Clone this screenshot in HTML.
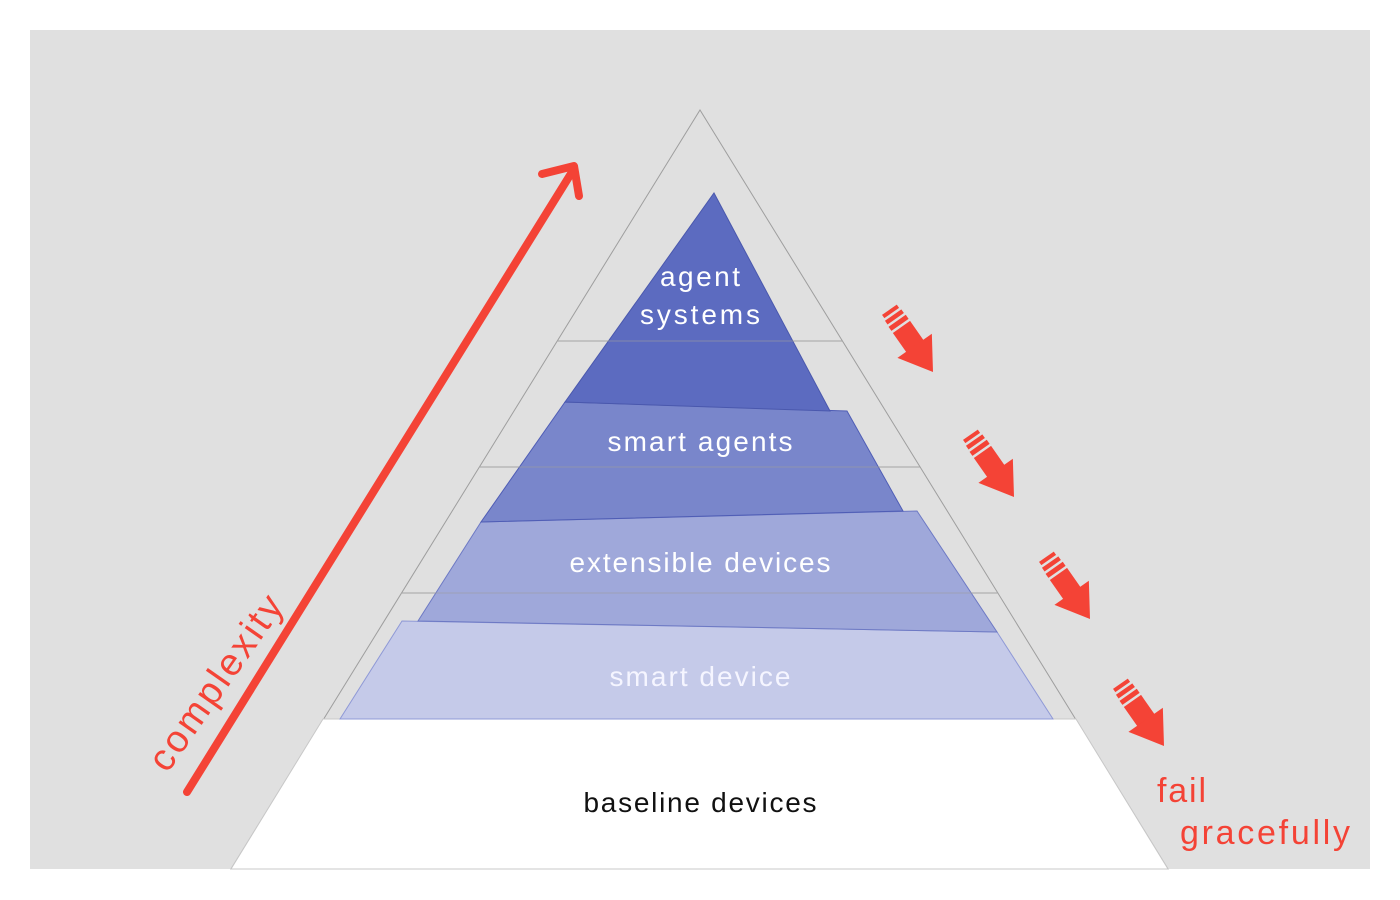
<!DOCTYPE html>
<html><head><meta charset="utf-8"><style>
html,body{margin:0;padding:0;background:#fff;}
svg{display:block;}
text{font-family:"Liberation Sans",sans-serif;}
</style></head><body>
<svg width="1400" height="900" viewBox="0 0 1400 900" xmlns="http://www.w3.org/2000/svg">
<defs>
<g id="ar">
<rect x="-76" y="-9" width="4" height="18" fill="#f44336"/>
<rect x="-69.5" y="-10" width="4.5" height="20" fill="#f44336"/>
<rect x="-62.5" y="-10.5" width="5" height="21" fill="#f44336"/>
<rect x="-55" y="-10.5" width="26" height="21" fill="#f44336"/>
<polygon points="-32,-21 0,0 -32,21" fill="#f44336"/>
</g>
</defs>
<rect x="30" y="30" width="1340" height="839" fill="#e0e0e0"/>
<polygon points="700,110 1168,869 231,869" fill="none" stroke="#9e9e9e" stroke-width="1"/>
<g stroke="#b0b0b0" stroke-width="1">
<line x1="557" y1="341" x2="842" y2="341"/>
<line x1="479" y1="467" x2="920" y2="467"/>
<line x1="401" y1="593" x2="998" y2="593"/>
</g>
<polygon points="323,719 1076,719 1168,869 231,869" fill="#ffffff" stroke="#c8c8c8" stroke-width="1"/>
<polygon points="402,621 997,632 1053,719 340,719" fill="#c5cae9" stroke="#8f99d6" stroke-width="1"/>
<polygon points="481,522 917,511 997,632 418,621" fill="#9fa8da" stroke="#6d79c4" stroke-width="1"/>
<polygon points="565,402 847,411 903,511 481,522" fill="#7986cb" stroke="#4f5db5" stroke-width="1"/>
<polygon points="714,193 830,411 565,402" fill="#5c6bc0" stroke="#4a58ad" stroke-width="1"/>
<g stroke="#9e9e9e" stroke-width="1" opacity="0.6">
<line x1="557" y1="341" x2="842" y2="341"/>
<line x1="479" y1="467" x2="920" y2="467"/>
<line x1="401" y1="593" x2="998" y2="593"/>
</g>
<g fill="#fff" font-size="28" text-anchor="middle">
<text x="700" y="286" textLength="80">agent</text>
<text x="700" y="324" textLength="120">systems</text>
<text x="700" y="451" textLength="185">smart agents</text>
<text x="700" y="572" textLength="261">extensible devices</text>
<text x="700" y="686" fill="#f5f5ff" textLength="181">smart device</text>
</g>
<text x="700" y="812" font-size="28" text-anchor="middle" fill="#111" textLength="233">baseline devices</text>
<line x1="187" y1="792" x2="572" y2="172" stroke="#f44336" stroke-width="8" stroke-linecap="round"/>
<polyline points="542,174 574,166 579,196" fill="none" stroke="#f44336" stroke-width="8" stroke-linecap="round" stroke-linejoin="round"/>
<text x="0" y="0" font-size="38" fill="#f44336" text-anchor="middle" transform="translate(226,690) rotate(-55)" textLength="205">complexity</text>
<use href="#ar" transform="translate(933,372) rotate(55)"/>
<use href="#ar" transform="translate(1014,497) rotate(55)"/>
<use href="#ar" transform="translate(1090,619) rotate(55)"/>
<use href="#ar" transform="translate(1164,746) rotate(55)"/>
<text x="1157" y="802" font-size="34" fill="#f44336" textLength="49">fail</text>
<text x="1180" y="844" font-size="34" fill="#f44336" textLength="170">gracefully</text>
</svg>
</body></html>
